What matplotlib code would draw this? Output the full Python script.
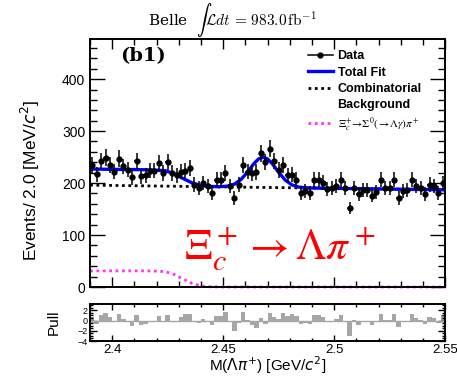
import numpy as np
import matplotlib
matplotlib.use("Agg")
import matplotlib.pyplot as plt
from matplotlib.lines import Line2D
from matplotlib.ticker import MultipleLocator

plt.rcParams['font.family'] = ['Liberation Sans', 'DejaVu Sans']
plt.rcParams['mathtext.fontset'] = 'dejavusans'

# data: M(Lambda pi+) bins of 2 MeV
bin_lo = 2.39
bin_w = 0.002
counts = [235, 217, 242, 249, 235, 222, 247, 232, 226, 211,
          242, 213, 215, 224, 224, 238, 219, 240, 219, 215,
          222, 224, 229, 197, 190, 200, 194, 181, 206, 206,
          219, 194, 171, 197, 235, 222, 219, 221, 257, 240,
          266, 243, 225, 234, 215, 216, 206, 181, 184, 181,
          206, 206, 201, 189, 190, 194, 206, 190, 152, 191,
          178, 187, 187, 176, 183, 206, 190, 190, 206, 171,
          184, 187, 206, 194, 190, 179, 197, 194, 181, 200]
pulls = [0.6, -0.6, 1.0, 1.5, 0.6, -0.3, 1.3, 0.4, 0.0, -1.0,
         1.0, -0.9, -0.75, -0.1, -0.1, 0.85, -0.3, 1.15, 0.0, 0.0,
         0.75, 1.2, 1.2, -0.15, -0.45, 0.35, 0.0, -0.9, 0.9, 0.9,
         1.7, -0.1, -2.1, -0.4, 1.6, 0.05, -0.9, -1.4, 0.55, -0.6,
         1.4, 0.65, 0.25, 1.55, 0.9, 1.35, 0.9, -0.75, -0.5, -0.75,
         1.05, 1.05, 0.75, -0.1, 0.0, 0.25, 1.1, 0.0, -3.0, 0.1,
         -0.8, -0.1, -0.05, -0.95, -0.35, 1.25, 0.15, 0.15, 1.3, -1.3,
         -0.3, 0.0, 1.35, 0.5, 0.2, -0.6, 0.7, 0.5, -0.45, 1.0]

# fit curves
curve_m = [2.39, 2.40, 2.41, 2.415, 2.42, 2.424, 2.428, 2.432, 2.436, 2.440,
           2.444, 2.448, 2.452, 2.455, 2.458, 2.461, 2.464, 2.466, 2.468, 2.470,
           2.472, 2.475, 2.478, 2.481, 2.484, 2.488, 2.492, 2.50, 2.51, 2.52,
           2.53, 2.54, 2.55]
total_fit = [227.0, 226.4, 225.9, 225.6, 224.8, 223.6, 217.9, 208.6, 200.4, 195.2,
             193.5, 192.9, 194.1, 197.8, 206.7, 221.4, 238.3, 246.6, 249.6, 246.4,
             237.9, 220.6, 205.6, 196.4, 192.3, 190.7, 190.3, 189.8, 189.3, 188.7,
             188.1, 187.6, 187.0]
comb_bkg = [196.0, 195.4, 194.9, 194.6, 194.3, 194.1, 193.9, 193.6, 193.4, 193.2,
            193.0, 192.7, 192.5, 192.3, 192.2, 192.0, 191.8, 191.7, 191.6, 191.5,
            191.4, 191.2, 191.1, 190.9, 190.7, 190.5, 190.3, 189.8, 189.3, 188.7,
            188.1, 187.6, 187.0]
sigma0_bkg = [31.0, 31.0, 31.0, 31.0, 30.5, 29.5, 24.0, 15.0, 7.0, 2.0,
              0.5, 0.1, 0, 0, 0, 0, 0, 0, 0, 0,
              0, 0, 0, 0, 0, 0, 0, 0, 0, 0,
              0, 0, 0]

mass = bin_lo + bin_w / 2 + bin_w * np.arange(len(counts))
counts = np.array(counts)
errs = np.sqrt(counts)

fig = plt.figure(figsize=(4.57, 3.76), dpi=100)
ax = fig.add_axes([0.197, 0.2367, 0.777, 0.6593])
axp = fig.add_axes([0.197, 0.093, 0.777, 0.098])

ax.plot(curve_m, comb_bkg, color='black', ls=(0, (1, 1.3)), lw=2.0)
ax.plot(curve_m, sigma0_bkg, color='#ff33ff', ls=(0, (1, 1.3)), lw=2.0, clip_on=False)
ax.plot(curve_m, total_fit, color='#0000ff', lw=2.4)
ax.errorbar(mass, counts, yerr=errs, xerr=bin_w / 2, fmt='o', color='black',
            ms=3.5, lw=1.1, capsize=0)

ax.set_xlim(2.39, 2.55)
ax.set_ylim(0, 477)
ax.xaxis.set_major_locator(MultipleLocator(0.05))
ax.xaxis.set_minor_locator(MultipleLocator(0.01))
ax.yaxis.set_major_locator(MultipleLocator(100))
ax.yaxis.set_minor_locator(MultipleLocator(20))
ax.tick_params(which='both', direction='in', top=True, right=True, labelbottom=False,
               labelsize=10, width=1.0)
ax.tick_params(axis='y', which='major', length=11)
ax.tick_params(axis='y', which='minor', length=5)
ax.tick_params(axis='x', which='major', length=7)
ax.tick_params(axis='x', which='minor', length=4)
for s in ax.spines.values():
    s.set_linewidth(1.4)
ax.set_ylabel('Events/ 2.0 [MeV/$c^{2}$]', fontsize=12.5)
ax.yaxis.set_label_coords(-0.135, 0.43)

ax.set_title(r'Belle  $\int\mathcal{L}dt\, =\, 983.0\,\mathrm{fb}^{-1}$', fontsize=11,
             math_fontfamily='cm', family='DejaVu Serif', x=0.4, pad=1)
ax.text(0.085, 0.93, '(b1)', transform=ax.transAxes, fontsize=14,
        family='DejaVu Serif', weight='bold', va='center')
ax.text(2.4756, 72, r'$\Xi_c^+ \rightarrow \Lambda\pi^+$', color='red',
        fontsize=31, math_fontfamily='stix', ha='center', va='center')

handles = [Line2D([], [], color='black', marker='o', ms=3.5, lw=1.1),
           Line2D([], [], color='#0000ff', lw=2.4),
           Line2D([], [], color='black', ls=(0, (1, 1.3)), lw=2.0),
           Line2D([], [], color='none'),
           Line2D([], [], color='#ff33ff', ls=(0, (1, 1.3)), lw=2.0)]
labels = ['Data', 'Total Fit', 'Combinatorial', 'Background',
          r'$\Xi_c^{+}\!\rightarrow\!\Sigma^0(\rightarrow\!\Lambda\gamma)\pi^+$']
leg = ax.legend(handles, labels, loc='upper right', bbox_to_anchor=(0.955, 0.985),
                frameon=False, handlelength=2.0, handletextpad=0.4, labelspacing=0.35,
                borderaxespad=0.2, prop={'weight': 'bold', 'size': 9})
leg.get_texts()[4].set_fontsize(8)
leg.get_texts()[4].set_math_fontfamily('stix')
leg.get_texts()[4].set_fontweight('normal')

axp.bar(mass, pulls, width=bin_w, color='#a6a6a6', lw=0)
axp.axhline(0, color='#a6a6a6', lw=1)
axp.set_xlim(2.39, 2.55)
axp.set_ylim(-4, 3.2)
axp.set_yticks([-4, -2, 0, 2])
axp.yaxis.set_minor_locator(MultipleLocator(0.5))
axp.xaxis.set_minor_locator(MultipleLocator(0.01))
axp.set_xticks([2.4, 2.45, 2.5, 2.55])
axp.set_xticklabels(['2.4', '2.45', '2.5', '2.55'])
axp.tick_params(which='both', direction='in', top=True, right=True, width=1.0)
axp.tick_params(axis='y', labelsize=6.5, length=5, pad=1.5)
axp.tick_params(axis='y', which='minor', length=2.5)
axp.tick_params(axis='x', labelsize=9.5, length=4, pad=2)
axp.tick_params(axis='x', which='minor', length=2.5)
for s in axp.spines.values():
    s.set_linewidth(1.4)
axp.set_ylabel('Pull', fontsize=11)
axp.yaxis.set_label_coords(-0.082, 0.5)
axp.set_xlabel('M($\\Lambda\\pi^{+}$) [GeV/$c^{2}$]', fontsize=11, labelpad=-1)

fig.savefig('out.png', dpi=100)
